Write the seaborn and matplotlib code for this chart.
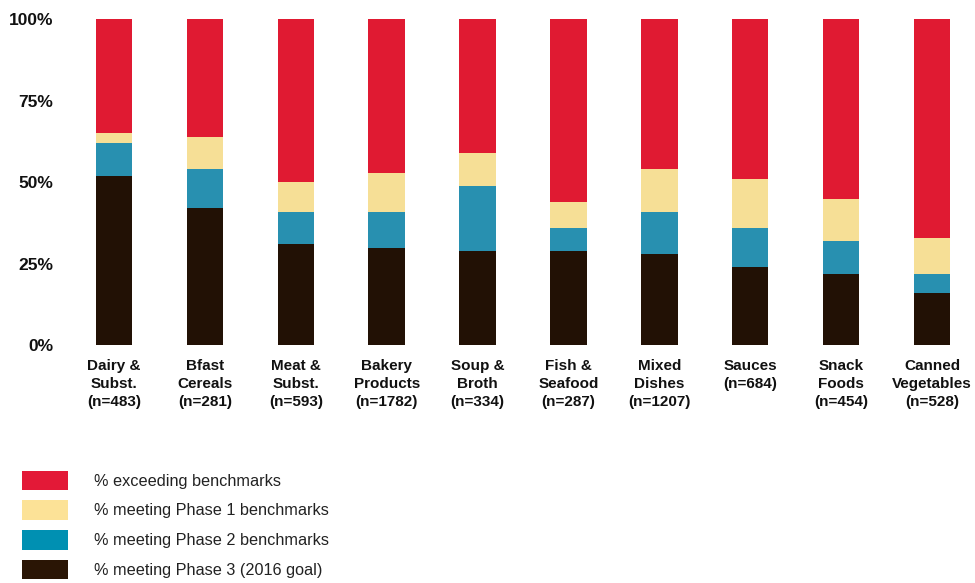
import matplotlib
matplotlib.use("Agg")
import matplotlib.pyplot as plt
import seaborn as sns
import numpy as np
import pandas as pd
from matplotlib.patches import Patch

categories = ["Dairy &\nSubst.\n(n=483)", "Bfast\nCereals\n(n=281)", "Meat &\nSubst.\n(n=593)",
              "Bakery\nProducts\n(n=1782)", "Soup &\nBroth\n(n=334)", "Fish &\nSeafood\n(n=287)",
              "Mixed\nDishes\n(n=1207)", "Sauces\n(n=684)\n", "Snack\nFoods\n(n=454)",
              "Canned\nVegetables\n(n=528)"]
phase3 = [52, 42, 31, 30, 29, 29, 28, 24, 22, 16]
phase2 = [10, 12, 10, 11, 20, 7, 13, 12, 10, 6]
phase1 = [3, 10, 9, 12, 10, 8, 13, 15, 13, 11]
exceeding = [35, 36, 50, 47, 41, 56, 46, 49, 55, 67]

series_names = ["% exceeding benchmarks", "% meeting Phase 1 benchmarks",
                "% meeting Phase 2 benchmarks", "% meeting Phase 3 (2016 goal)"]
colors = ["#E01A32", "#F6DF96", "#2890B0", "#221105"]
legend_colors = ["#E31937", "#FCE297", "#0090B2", "#2A1505"]

sns.set_theme(style="white")
plt.rcParams['font.family'] = ['Liberation Sans', 'DejaVu Sans']

df = pd.DataFrame({"cat": categories, "p3": phase3, "p2": phase2, "p1": phase1, "ex": exceeding})
df["c3"] = df["p3"]
df["c2"] = df["c3"] + df["p2"]
df["c1"] = df["c2"] + df["p1"]
df["c0"] = df["c1"] + df["ex"]

fig = plt.figure(figsize=(9.75, 5.83), dpi=100)
W, H = 975, 583
left_px, right_px = 62, 975
ax = fig.add_axes([left_px / W, (H - 345.3) / H, (right_px - left_px) / W, (345.3 - 19.3) / H])

for col, c in zip(["c0", "c1", "c2", "c3"], colors):
    sns.barplot(data=df, x="cat", y=col, color=c, width=0.40, ax=ax,
                order=categories, saturation=1, linewidth=0)

ppu = (932 - 114) / 9.0
ax.set_xlim(-(114 - left_px) / ppu, 9 + (right_px - 932) / ppu)
ax.set_ylim(0, 100)
ax.set_yticks([0, 25, 50, 75, 100])
ax.set_yticklabels(["0%", "25%", "50%", "75%", "100%"])
ax.set_xlabel("")
ax.set_ylabel("")
for s in ax.spines.values():
    s.set_visible(False)
ax.tick_params(axis="y", length=0, pad=(left_px - 53.5) * 0.72, labelsize=12.5)
ax.tick_params(axis="x", length=0, pad=10, labelsize=11)
for t in ax.get_yticklabels():
    t.set_fontweight("bold")
    t.set_color("#111111")
for t in ax.get_xticklabels():
    t.set_fontweight("bold")
    t.set_linespacing(1.36)
    t.set_color("#111111")
    t.set_verticalalignment("top")

handles = [Patch(facecolor=c, edgecolor="none") for c in legend_colors]
fs = 11.7
em = fs * 100 / 72.0
leg = fig.legend(handles, series_names, loc="upper left",
                 bbox_to_anchor=(21.7 / W, 1 - 470.5 / H), frameon=False,
                 borderpad=0, borderaxespad=0, fontsize=fs,
                 handlelength=46 / em, handleheight=24 / em,
                 handletextpad=26 / em, labelspacing=10.2 / em)
for t in leg.get_texts():
    t.set_color("#222222")

fig.savefig("out.png", dpi=100)
